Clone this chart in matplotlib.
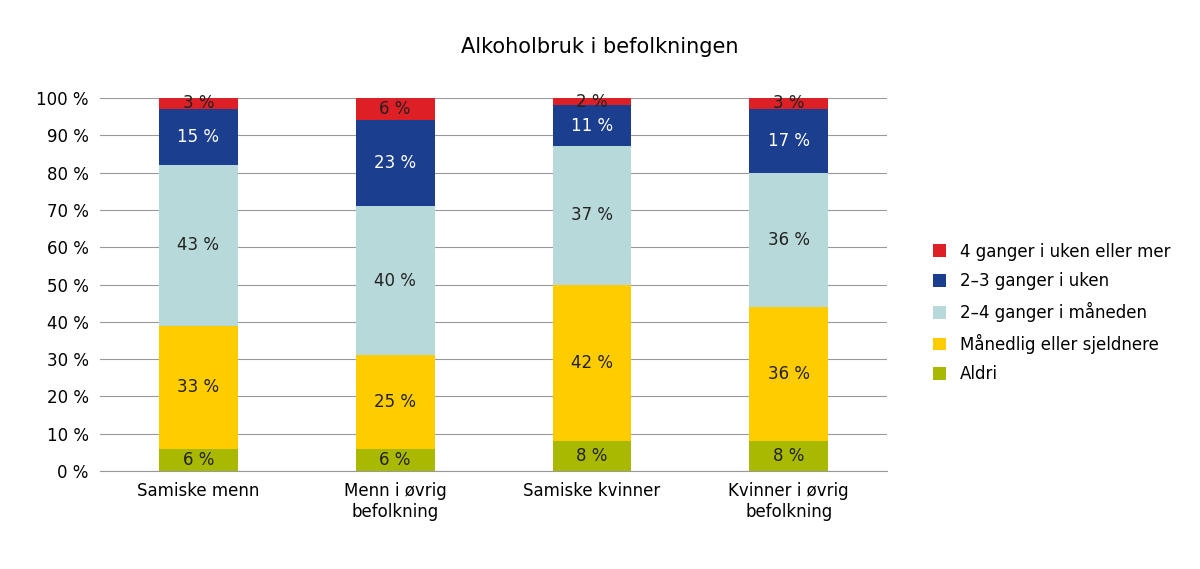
import matplotlib
matplotlib.use("Agg")
import matplotlib.pyplot as plt
import numpy as np

# ── Data ──────────────────────────────────────────────────────────────
CATEGORIES = ["Samiske menn", "Menn i øvrig\nbefolkning",
              "Samiske kvinner", "Kvinner i øvrig\nbefolkning"]
SERIES = ["Aldri", "Månedlig eller sjeldnere", "2–4 ganger i måneden",
          "2–3 ganger i uken", "4 ganger i uken eller mer"]
ALDRI = [6, 6, 8, 8]
MAANEDLIG = [33, 25, 42, 36]
TO_FIRE_MND = [43, 40, 37, 36]
TO_TRE_UKE = [15, 23, 11, 17]
FIRE_UKE = [3, 6, 2, 3]
Y_TICKS = list(range(0, 101, 10))

COLORS = ["#a9b800", "#ffcc00", "#b8d9da", "#1b3f8e", "#dd1f26"]
TEXT_COLORS = ["#222222", "#222222", "#222222", "white", "#222222"]

values = [ALDRI, MAANEDLIG, TO_FIRE_MND, TO_TRE_UKE, FIRE_UKE]

fig = plt.figure(figsize=(12, 5.69), dpi=100)
ax = fig.add_axes([0.0833, 0.172, 0.656, 0.656])

x = np.arange(len(CATEGORIES))
bottom = np.zeros(len(CATEGORIES))
for vals, name, col, tcol in zip(values, SERIES, COLORS, TEXT_COLORS):
    vals = np.array(vals, dtype=float)
    ax.bar(x, vals, bottom=bottom, width=0.4, color=col, label=name, zorder=3)
    for xi, b, v in zip(x, bottom, vals):
        ax.text(xi, b + v / 2, f"{int(v)} %", ha="center", va="center",
                fontsize=12, color=tcol, zorder=4)
    bottom += vals

ax.set_xlim(-0.5, len(CATEGORIES) - 0.5)
ax.set_ylim(0, 100)
ax.set_yticks(Y_TICKS)
ax.set_yticklabels([f"{t} %" for t in Y_TICKS], fontsize=12)
ax.set_xticks(x)
ax.set_xticklabels(CATEGORIES, fontsize=12)
ax.tick_params(length=0, pad=8)
ax.grid(axis="y", color="#999999", linewidth=0.8, zorder=0)
for s in ["top", "right", "left"]:
    ax.spines[s].set_visible(False)
ax.spines["bottom"].set_color("#999999")

h, l = ax.get_legend_handles_labels()
fig.legend(h[::-1], l[::-1], loc="center left", bbox_to_anchor=(0.765, 0.45),
           frameon=False, fontsize=12, handlelength=0.8, handleheight=0.8,
           labelspacing=0.7)

fig.suptitle("Alkoholbruk i befolkningen", fontsize=15, x=0.5, y=0.935)
fig.savefig("out.png", dpi=100)
